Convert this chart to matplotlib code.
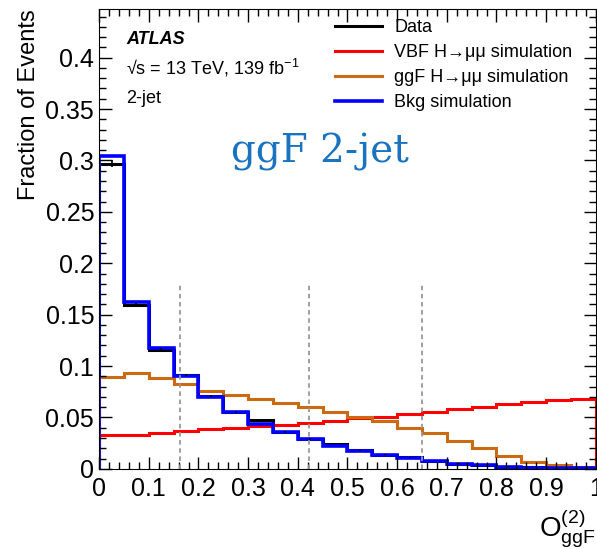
import numpy as np
import matplotlib
matplotlib.use("Agg")
import matplotlib.pyplot as plt
from matplotlib.ticker import MultipleLocator, FuncFormatter

plt.rcParams['font.family'] = ['Liberation Sans', 'DejaVu Sans']
plt.rcParams['mathtext.fontset'] = 'custom'
plt.rcParams['mathtext.rm'] = 'Liberation Sans'
plt.rcParams['mathtext.it'] = 'Liberation Sans:italic'

# bin edges of O_ggF^(2), 20 bins
edges = np.linspace(0, 1, 21)

data = [0.297, 0.1595, 0.116, 0.0914, 0.071, 0.0557, 0.048, 0.0357, 0.029, 0.0246,
        0.0180, 0.0138, 0.0112, 0.0078, 0.0052, 0.0038, 0.0022, 0.0015, 0.0009, 0.0006]
data_err = [0.003, 0.002, 0.0015, 0.0012, 0.001, 0.001, 0.0008, 0.0007, 0.0006, 0.0005,
            0.0004, 0.0004, 0.0003, 0.0003, 0.0002, 0.0002, 0.0002, 0.0001, 0.0001, 0.0001]
vbf = [0.0334, 0.0334, 0.035, 0.037, 0.0386, 0.0402, 0.0418, 0.0428, 0.0444, 0.047,
       0.0493, 0.0509, 0.0532, 0.0554, 0.058, 0.0606, 0.0632, 0.0655, 0.0668, 0.0678]
ggf = [0.0895, 0.0934, 0.0888, 0.0824, 0.0759, 0.0717, 0.0678, 0.0645, 0.0603, 0.0554,
       0.0506, 0.0467, 0.040, 0.0344, 0.0272, 0.0198, 0.0126, 0.0071, 0.0036, 0.002]
bkg = [0.3045, 0.1625, 0.118, 0.090, 0.070, 0.0557, 0.044, 0.0357, 0.029, 0.0224,
       0.0172, 0.0136, 0.011, 0.0075, 0.0049, 0.0036, 0.002, 0.0013, 0.0008, 0.0005]

boundaries = [0.163, 0.422, 0.65]
boundary_top = 0.18

fig = plt.figure(figsize=(5.97, 5.49), dpi=100)
ax = fig.add_axes([0.166, 0.146, 0.832, 0.837])

centers = 0.5 * (edges[:-1] + edges[1:])
ax.stairs(data, edges, color='black', lw=2.2, label='Data')
ax.errorbar(centers, data, yerr=data_err, fmt='none', ecolor='black', elinewidth=1.2)
ax.stairs(vbf, edges, color='#ff0000', lw=2.2, label='VBF H→μμ simulation')
ax.stairs(ggf, edges, color='#cc6a12', lw=2.2, label='ggF H→μμ simulation')
ax.stairs(bkg, edges, color='#0000ff', lw=2.6, label='Bkg simulation')

for b in boundaries:
    ax.plot([b, b], [0, boundary_top], color='#999999', lw=1.3, ls=(0, (2.5, 2)))

ax.set_xlim(0, 1)
ax.set_ylim(0, 0.447)
ax.xaxis.set_major_locator(MultipleLocator(0.1))
ax.xaxis.set_minor_locator(MultipleLocator(0.02))
ax.yaxis.set_major_locator(MultipleLocator(0.05))
ax.yaxis.set_minor_locator(MultipleLocator(0.01))
fmt = FuncFormatter(lambda v, p: '%g' % round(v, 3))
ax.xaxis.set_major_formatter(fmt)
ax.yaxis.set_major_formatter(fmt)
ax.tick_params(which='both', direction='in', top=True, right=True, labelsize=18)
ax.tick_params(which='major', length=9, width=1)
ax.tick_params(which='minor', length=5, width=1)
ax.tick_params(axis='x', pad=6)

ax.set_ylabel('Fraction of Events', fontsize=17, loc='top')
ax.set_xlabel(r'O$_{\mathrm{ggF}}^{(2)}$', fontsize=20, loc='right', labelpad=4)

ax.text(0.055, 0.935, 'ATLAS', transform=ax.transAxes, fontsize=13,
        fontweight='bold', style='italic', va='center')
ax.text(0.055, 0.872, '√s = 13 TeV, 139 fb$^{-1}$', transform=ax.transAxes,
        fontsize=13, va='center')
ax.text(0.055, 0.807, '2-jet', transform=ax.transAxes, fontsize=13, va='center')

ax.text(0.445, 0.69, 'ggF 2-jet', transform=ax.transAxes, fontsize=28,
        family='DejaVu Serif', color='#1a73bf', ha='center', va='center')

ax.legend(loc='upper left', bbox_to_anchor=(0.46, 0.995), frameon=False, fontsize=13,
          handlelength=2.6, labelspacing=0.45, handletextpad=0.7, borderaxespad=0)

fig.savefig('out.png', dpi=100)
